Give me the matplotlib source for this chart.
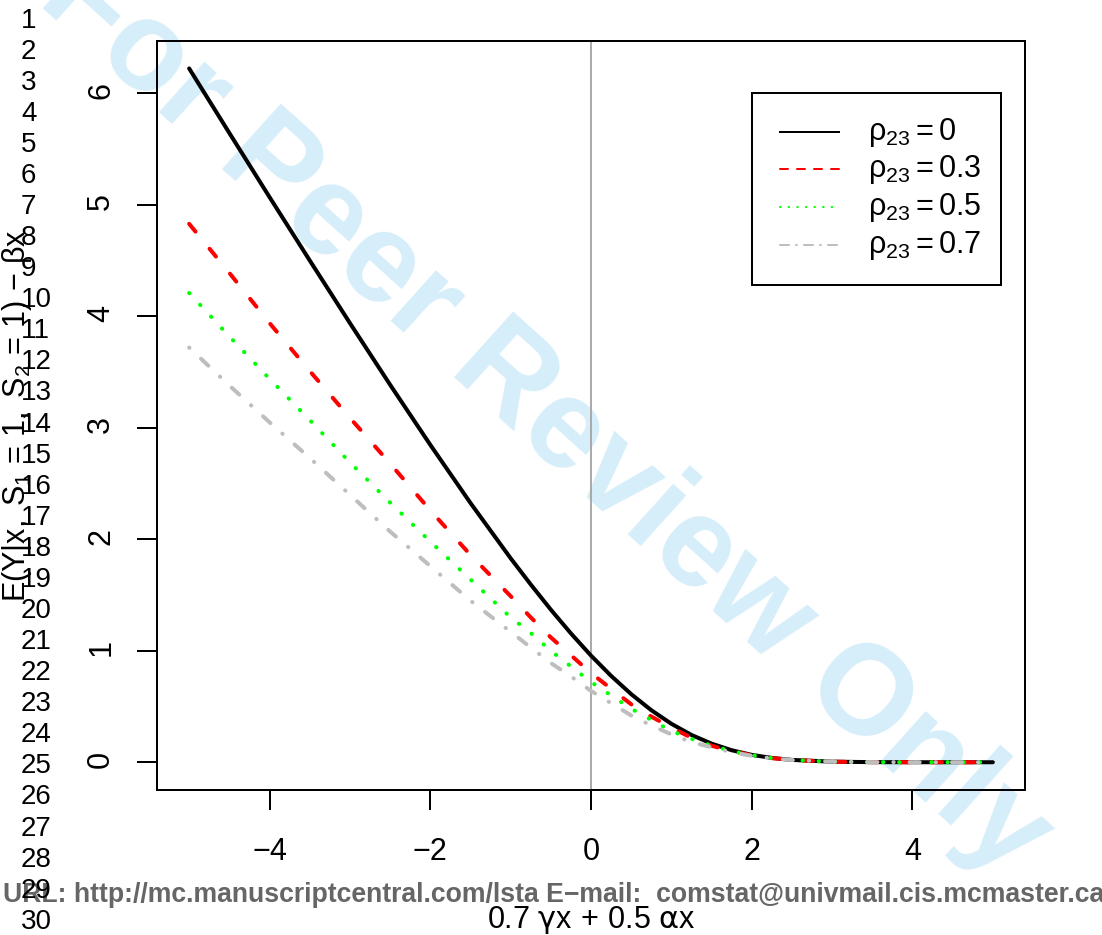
import matplotlib
matplotlib.use("Agg")
import matplotlib.pyplot as plt
from matplotlib.lines import Line2D
from matplotlib.patches import Rectangle

# ---------------- data ----------------
x_vals = [-5, -4.5, -4, -3.5, -3, -2.5, -2, -1.5, -1, -0.75, -0.5, -0.25, 0,
          0.25, 0.5, 0.75, 1, 1.25, 1.5, 1.75, 2, 2.25, 2.5, 3, 3.5, 4, 4.5, 5]
rho_0 = [6.224, 5.645, 5.070, 4.502, 3.940, 3.387, 2.848, 2.326, 1.830, 1.595, 1.369,
         1.156, 0.957, 0.775, 0.611, 0.467, 0.345, 0.245, 0.167, 0.108, 0.066, 0.039,
         0.021, 0.005, 0.001, 0.0002, 0.0, 0.0]
rho_03 = [4.83, 4.39, 3.94, 3.51, 3.09, 2.68, 2.26, 1.86, 1.49, 1.30, 1.12, 0.96, 0.80,
          0.66, 0.52, 0.41, 0.31, 0.22, 0.148, 0.10, 0.063, 0.037, 0.02, 0.005, 0.001,
          0.0002, 0.0, 0.0]
rho_05 = [4.21, 3.82, 3.44, 3.07, 2.69, 2.33, 1.98, 1.64, 1.30, 1.16, 1.00, 0.86, 0.72,
          0.60, 0.48, 0.38, 0.28, 0.21, 0.148, 0.10, 0.064, 0.037, 0.02, 0.005, 0.001,
          0.0002, 0.0, 0.0]
rho_07 = [3.72, 3.38, 3.05, 2.73, 2.40, 2.07, 1.76, 1.45, 1.17, 1.03, 0.89, 0.77, 0.64,
          0.53, 0.42, 0.33, 0.25, 0.18, 0.135, 0.09, 0.058, 0.035, 0.02, 0.005, 0.001,
          0.0002, 0.0, 0.0]
series_labels = [r"$\rho_{23} = 0$", r"$\rho_{23} = 0.3$", r"$\rho_{23} = 0.5$", r"$\rho_{23} = 0.7$"]
x_ticks = [-4, -2, 0, 2, 4]
y_ticks = [0, 1, 2, 3, 4, 5, 6]
x_label = r"$0.7\ \mathsf{\gamma}x\, +\, 0.5\ \mathsf{\alpha}x$"
y_label = r"$E(Y|x,\ S_1\, =\, 1,\ S_2\, =\, 1)\, -\, \beta x$"
url_text = "URL: http://mc.manuscriptcentral.com/lsta E\u2212mail:  comstat@univmail.cis.mcmaster.ca"
watermark = "For Peer Review Only"
line_numbers = [str(i) for i in range(1, 31)]

# ---------------- style ----------------
plt.rcParams["font.family"] = ["Liberation Sans", "DejaVu Sans"]
plt.rcParams["mathtext.fontset"] = "custom"
plt.rcParams["mathtext.rm"] = "Liberation Sans"
plt.rcParams["mathtext.it"] = "Liberation Sans:italic"
plt.rcParams["mathtext.bf"] = "Liberation Sans:bold"
plt.rcParams["mathtext.sf"] = "DejaVu Sans"
plt.rcParams["mathtext.default"] = "regular"

W, H = 1102, 935
FS = 22
fig = plt.figure(figsize=(W / 100, H / 100), dpi=100)
L, R, T, B = 157, 1025, 40.7, 790
ax = fig.add_axes([L / W, 1 - B / H, (R - L) / W, (B - T) / H])
ax.patch.set_alpha(0)


def fx(px):
    return (px - L) / (R - L)


def fy(py):
    return (B - py) / (B - T)


colors = ["black", "#ff0000", "#00ff00", "#bebebe"]
styles = ["-", (0, (2.5, 5.5)), (0, (0.1, 3.9)), (0, (0.1, 3.95, 2.5, 3.95))]
LW = 2.9
ax.axvline(0, color="#a9a9a9", lw=1.4, zorder=1)
for ys, c, s in zip([rho_0, rho_03, rho_05, rho_07], colors, styles):
    ax.plot(x_vals, ys, color=c, lw=LW, linestyle=s, dash_capstyle="round",
            solid_capstyle="round", zorder=2)

allv = rho_0 + rho_03 + rho_05 + rho_07
ymin, ymax = min(allv), max(allv)
ypad = 0.04 * (ymax - ymin)
xpad = 0.04 * (max(x_vals) - min(x_vals))
ax.set_xlim(min(x_vals) - xpad, max(x_vals) + xpad)
ax.set_ylim(ymin - ypad, ymax + ypad)

ax.set_xticks(x_ticks)
ax.set_yticks(y_ticks)
ax.set_xticklabels([f"{v}".replace("-", "\u2212") for v in x_ticks])
ax.set_yticklabels([str(v) for v in y_ticks])
ax.tick_params(axis="both", length=14.4, width=1.44, labelsize=FS, color="black")
ax.tick_params(axis="x", pad=19.4)
ax.tick_params(axis="y", pad=15, labelrotation=90)
for sp in ax.spines.values():
    sp.set_linewidth(1.44)

ax.set_xlabel(x_label, fontsize=FS)
ax.xaxis.set_label_coords(0.5, fy(928))
ax.xaxis.label.set_verticalalignment("baseline")
ax.set_ylabel(y_label, fontsize=FS)
ax.yaxis.set_label_coords(fx(25), 0.5)
ax.yaxis.label.set_verticalalignment("baseline")

# ---------------- legend ----------------
bx0, by0, bx1, by1 = 751.7, 92.7, 1000.7, 285
ax.add_patch(Rectangle((fx(bx0), fy(by1)), fx(bx1) - fx(bx0), fy(by0) - fy(by1),
                       transform=ax.transAxes, facecolor="white", edgecolor="black",
                       lw=1.44, zorder=5, clip_on=False))
row_y = [131.7, 169.3, 207.3, 245.0]
leg_styles = ["-", (0, (4, 4.5)), (0, (0.3, 4.0)), (0, (4.5, 3.5, 0.5, 3.5))]
for ry, c, s, lab in zip(row_y, colors, leg_styles, series_labels):
    ax.add_line(Line2D([fx(780), fx(839)], [fy(ry), fy(ry)], transform=ax.transAxes,
                       color=c, lw=1.44, linestyle=s, dash_capstyle="round",
                       zorder=6, clip_on=False))
    ax.text(fx(868), fy(ry + 8), lab, transform=ax.transAxes, fontsize=FS,
            ha="left", va="baseline", zorder=6)

# ---------------- page decorations ----------------
fig.text(36 / W, 1 - 1.5 / H, watermark, fontsize=91.8, fontweight="bold",
         color="#d6eefa", rotation=-42, rotation_mode="anchor",
         ha="left", va="baseline", zorder=-1)
fig.text(3 / W, 1 - 901.5 / H, url_text, fontsize=19.2, fontweight="bold",
         color="#666666", ha="left", va="baseline", zorder=1)
for i, s in enumerate(line_numbers):
    fig.text(21 / W, 1 - (27.5 + i * 31.08) / H, s, fontsize=20, color="black",
             ha="left", va="baseline", zorder=2)

fig.savefig("out.png", dpi=100)
